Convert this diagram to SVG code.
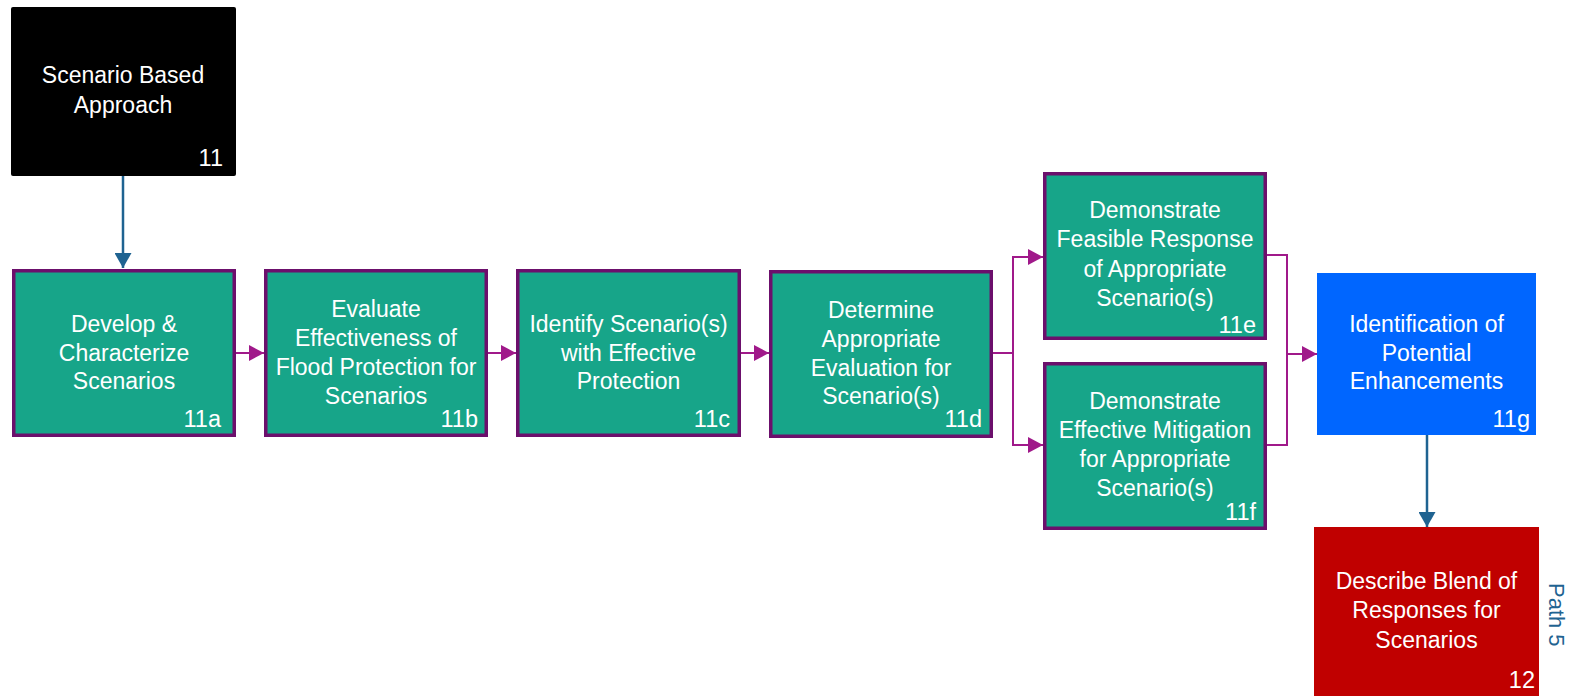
<svg xmlns="http://www.w3.org/2000/svg" width="1578" height="696" viewBox="0 0 1578 696">
<style>
  .g rect{fill:#17A589;stroke:#6C0F6C;stroke-width:3.5}
  text{font-family:"Liberation Sans",Arial,sans-serif;font-size:23px;fill:#ffffff}
  .c{text-anchor:middle}
  .n{text-anchor:end;font-size:23.5px}
  .pc{fill:none;stroke:#A0198A;stroke-width:2}
  .bc{fill:none;stroke:#1F6391;stroke-width:2.5}
</style>
<defs>
  <marker id="ap" markerUnits="userSpaceOnUse" markerWidth="15" markerHeight="16" refX="15" refY="8" orient="auto">
    <path d="M0,0 L15,8 L0,16 z" fill="#A0198A"/>
  </marker>
  <marker id="ab" markerUnits="userSpaceOnUse" markerWidth="15" markerHeight="17" refX="15" refY="8.5" orient="auto">
    <path d="M0,0 L15,8.5 L0,17 z" fill="#1F6391"/>
  </marker>
</defs>
<rect width="1578" height="696" fill="#ffffff"/>

<g id="connectors">
  <path class="bc" d="M123,176 V268" marker-end="url(#ab)"/>
  <path class="pc" d="M236,353 H264" marker-end="url(#ap)"/>
  <path class="pc" d="M488,353 H516" marker-end="url(#ap)"/>
  <path class="pc" d="M741,353 H769" marker-end="url(#ap)"/>
  <path class="pc" d="M993,353 H1013 V257 H1043" marker-end="url(#ap)"/>
  <path class="pc" d="M1013,353 V445 H1043" marker-end="url(#ap)"/>
  <path class="pc" d="M1267,255 H1287 V445 H1267"/>
  <path class="pc" d="M1287,354 H1317" marker-end="url(#ap)"/>
  <path class="bc" d="M1427,435 V527" marker-end="url(#ab)"/>
</g>

<g id="n11">
  <rect x="11" y="7" width="225" height="169" rx="2" fill="#000000"/>
  <text class="c" x="123" y="83">Scenario Based</text>
  <text class="c" x="123" y="113">Approach</text>
  <text class="n" x="223" y="166">11</text>
</g>

<g id="n11a" class="g">
  <rect x="13.75" y="270.75" width="220.5" height="164.5"/>
  <text class="c" x="124" y="332">Develop &amp;</text>
  <text class="c" x="124" y="360.5">Characterize</text>
  <text class="c" x="124" y="389">Scenarios</text>
  <text class="n" x="221" y="427">11a</text>
</g>

<g id="n11b" class="g">
  <rect x="265.75" y="270.75" width="220.5" height="164.5"/>
  <text class="c" x="376" y="317">Evaluate</text>
  <text class="c" x="376" y="346">Effectiveness of</text>
  <text class="c" x="376" y="375">Flood Protection for</text>
  <text class="c" x="376" y="404">Scenarios</text>
  <text class="n" x="478" y="427">11b</text>
</g>

<g id="n11c" class="g">
  <rect x="517.75" y="270.75" width="221.5" height="164.5"/>
  <text class="c" x="628.5" y="332">Identify Scenario(s)</text>
  <text class="c" x="628.5" y="360.5">with Effective</text>
  <text class="c" x="628.5" y="389">Protection</text>
  <text class="n" x="730" y="427">11c</text>
</g>

<g id="n11d" class="g">
  <rect x="770.75" y="271.75" width="220.5" height="164.5"/>
  <text class="c" x="881" y="318">Determine</text>
  <text class="c" x="881" y="347">Appropriate</text>
  <text class="c" x="881" y="375.5">Evaluation for</text>
  <text class="c" x="881" y="404">Scenario(s)</text>
  <text class="n" x="982" y="427">11d</text>
</g>

<g id="n11e" class="g">
  <rect x="1044.75" y="173.75" width="220.5" height="164.5"/>
  <text class="c" x="1155" y="218">Demonstrate</text>
  <text class="c" x="1155" y="247">Feasible Response</text>
  <text class="c" x="1155" y="276.5">of Appropriate</text>
  <text class="c" x="1155" y="306">Scenario(s)</text>
  <text class="n" x="1256" y="333">11e</text>
</g>

<g id="n11f" class="g">
  <rect x="1044.75" y="363.75" width="220.5" height="164.5"/>
  <text class="c" x="1155" y="409">Demonstrate</text>
  <text class="c" x="1155" y="438">Effective Mitigation</text>
  <text class="c" x="1155" y="467">for Appropriate</text>
  <text class="c" x="1155" y="495.5">Scenario(s)</text>
  <text class="n" x="1256" y="520">11f</text>
</g>

<g id="n11g">
  <rect x="1317" y="273" width="219" height="162" fill="#0066FF"/>
  <text class="c" x="1426.5" y="332">Identification of</text>
  <text class="c" x="1426.5" y="360.5">Potential</text>
  <text class="c" x="1426.5" y="389">Enhancements</text>
  <text class="n" x="1530" y="427">11g</text>
</g>

<g id="n12">
  <rect x="1314" y="527" width="225" height="175" fill="#C00000"/>
  <text class="c" x="1426.5" y="589">Describe Blend of</text>
  <text class="c" x="1426.5" y="618">Responses for</text>
  <text class="c" x="1426.5" y="648">Scenarios</text>
  <text class="n" x="1535" y="688">12</text>
</g>

<g id="path5">
  <text transform="translate(1549,583) rotate(90)" x="0" y="0" style="fill:#1F6391;font-size:22px">Path 5</text>
</g>
</svg>
